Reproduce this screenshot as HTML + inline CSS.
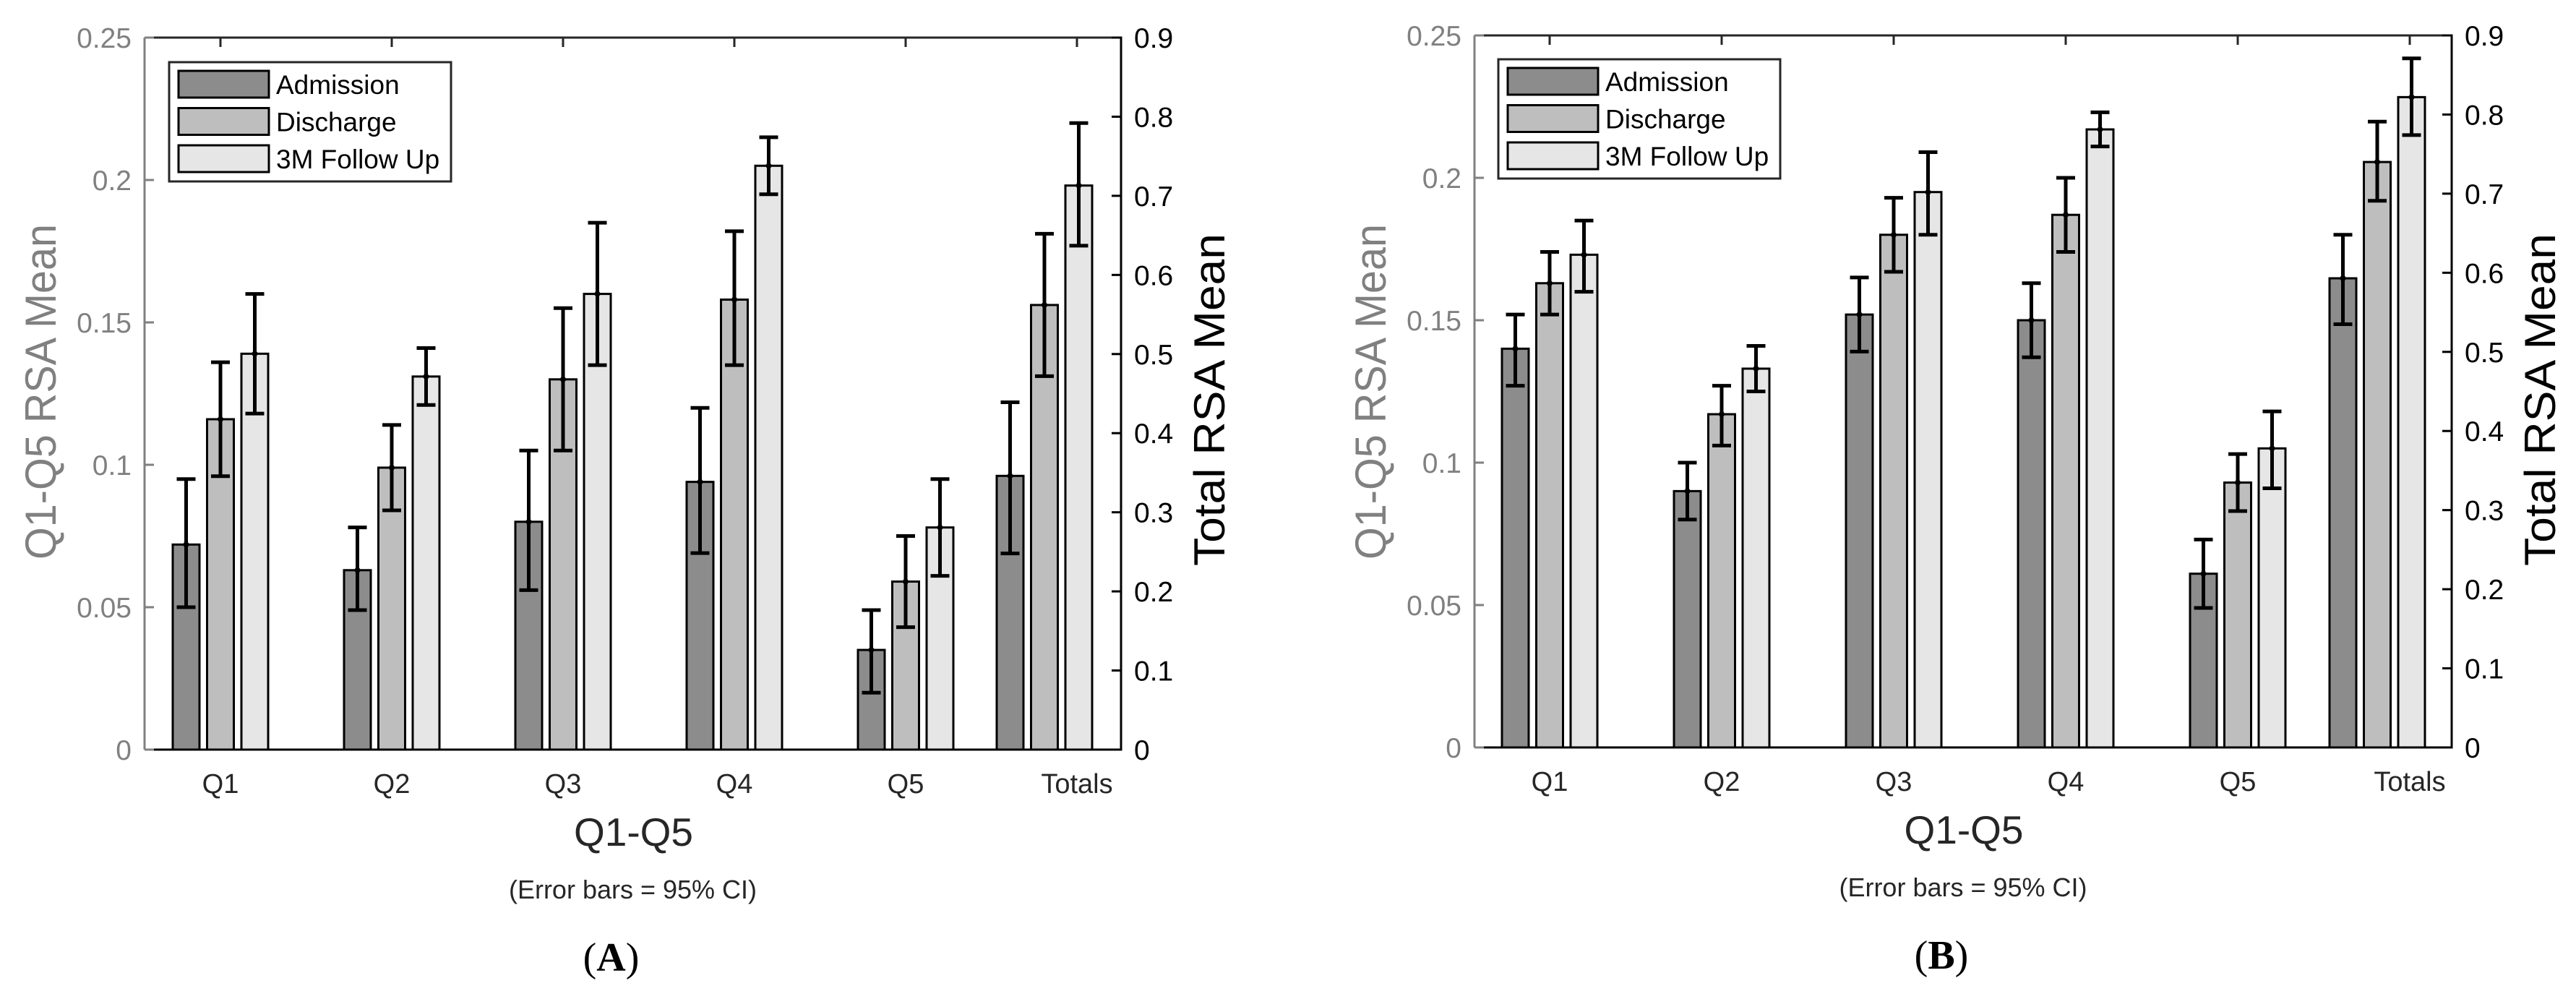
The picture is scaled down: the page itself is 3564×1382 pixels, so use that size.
<!DOCTYPE html>
<html><head><meta charset="utf-8"><style>
html,body{margin:0;padding:0;background:#fff;}
svg{display:block;font-family:"Liberation Sans",Arial,sans-serif;}
</style></head><body>
<svg id="fig" width="3564" height="1382" viewBox="0 0 3564 1382" xmlns="http://www.w3.org/2000/svg"></svg>
<script>
const categories = ["Q1","Q2","Q3","Q4","Q5","Totals"];
const seriesNames = ["Admission","Discharge","3M Follow Up"];
const leftTicks = ["0","0.05","0.1","0.15","0.2","0.25"];
const rightTicks = ["0","0.1","0.2","0.3","0.4","0.5","0.6","0.7","0.8","0.9"];
// Panel A: Q1-Q5 on left axis (0-0.25), Totals on right axis (0-0.9)
const aAdm = [0.072,0.063,0.080,0.094,0.035,0.346];
const aAdmLo = [0.050,0.049,0.056,0.069,0.020,0.248];
const aAdmHi = [0.095,0.078,0.105,0.120,0.049,0.439];
const aDis = [0.116,0.099,0.130,0.158,0.059,0.562];
const aDisLo = [0.096,0.084,0.105,0.135,0.043,0.472];
const aDisHi = [0.136,0.114,0.155,0.182,0.075,0.652];
const aFu = [0.139,0.131,0.160,0.205,0.078,0.713];
const aFuLo = [0.118,0.121,0.135,0.195,0.061,0.637];
const aFuHi = [0.160,0.141,0.185,0.215,0.095,0.792];
// Panel B
const bAdm = [0.140,0.090,0.152,0.150,0.061,0.593];
const bAdmLo = [0.127,0.080,0.139,0.137,0.049,0.535];
const bAdmHi = [0.152,0.100,0.165,0.163,0.073,0.648];
const bDis = [0.163,0.117,0.180,0.187,0.093,0.740];
const bDisLo = [0.152,0.106,0.167,0.174,0.083,0.691];
const bDisHi = [0.174,0.127,0.193,0.200,0.103,0.791];
const bFu = [0.173,0.133,0.195,0.217,0.105,0.822];
const bFuLo = [0.160,0.125,0.180,0.211,0.091,0.774];
const bFuHi = [0.185,0.141,0.209,0.223,0.118,0.871];

const NS="http://www.w3.org/2000/svg";
const svg=document.getElementById('fig');
function mk(tag,attrs,parent,text){const e=document.createElementNS(NS,tag);for(const k in attrs)e.setAttribute(k,attrs[k]);if(text!==undefined)e.textContent=text;(parent||svg).appendChild(e);return e;}
const fills=["#8c8c8c","#bebebe","#e6e6e6"];

function panel(P){
  const g=mk('g',{});
  
  
  const L=P.left,R=P.right,T=P.top,B=P.bottom;
  const yL=v=>B-(v/0.25)*(B-T);
  const yR=v=>B-(v/0.9)*(B-T);
  const xTick=i=>P.x0+i*P.step;
  const xCenter=i=>i===5?xTick(i)-45:xTick(i);
  const pitch=47.5,bw=37;
  const vals=[P.s[0],P.s[1],P.s[2]],lo=[P.lo[0],P.lo[1],P.lo[2]],hi=[P.hi[0],P.hi[1],P.hi[2]];
  for(let i=0;i<categories.length;i++){
    const ys=i===5?yR:yL;
    for(let s=0;s<3;s++){
      const cx=xCenter(i)+(s-1)*pitch;
      const y=ys(vals[s][i]);
      const r=mk('rect',{x:cx-bw/2,y:y,width:bw,height:B-y,fill:fills[s],stroke:'#000','stroke-width':3},g);
      
      
      const eg=mk('g',{stroke:'#000','stroke-width':5},g);
      
      
      const y1=ys(lo[s][i]),y2=ys(hi[s][i]);
      mk('line',{x1:cx,x2:cx,y1:y1,y2:y2},eg);
      mk('line',{x1:cx-13,x2:cx+13,y1:y1,y2:y1},eg);
      mk('line',{x1:cx-13,x2:cx+13,y1:y2,y2:y2},eg);
      mk('circle',{cx:cx,cy:y,r:4,fill:'#000',stroke:'none'},eg);
    }
  }
  const ax=mk('g',{},g);
  
  
  mk('line',{x1:L,x2:R,y1:T,y2:T,stroke:'#262626','stroke-width':3},ax);
  mk('line',{x1:L,x2:R+1.5,y1:B,y2:B,stroke:'#000','stroke-width':3},ax);
  mk('line',{x1:L,x2:L,y1:T,y2:B,stroke:'#808080','stroke-width':3},ax);
  mk('line',{x1:R,x2:R,y1:T-1.5,y2:B+1.5,stroke:'#000','stroke-width':3},ax);
  for(let i=0;i<categories.length;i++){
    mk('line',{x1:xTick(i),x2:xTick(i),y1:T,y2:T+13,stroke:'#262626','stroke-width':3},ax);
    const t=mk('text',{x:xTick(i),y:B+60,'font-size':38,'text-anchor':'middle',fill:'#262626'},g,categories[i]);
    
    
  }
  for(let k=0;k<leftTicks.length;k++){
    const y=yL(parseFloat(leftTicks[k]));
    mk('line',{x1:L,x2:L+13,y1:y,y2:y,stroke:'#808080','stroke-width':3},ax);
    const t=mk('text',{x:L-18,y:y+14,'font-size':39,'text-anchor':'end',fill:'#808080'},g,leftTicks[k]);
    
    
  }
  for(let k=0;k<rightTicks.length;k++){
    const y=yR(parseFloat(rightTicks[k]));
    mk('line',{x1:R-13,x2:R,y1:y,y2:y,stroke:'#000','stroke-width':3},ax);
    const t=mk('text',{x:R+18,y:y+14,'font-size':39,fill:'#000'},g,rightTicks[k]);
    
    
  }
  const lt=mk('text',{x:0,y:0,'font-size':60,'text-anchor':'middle',textLength:464,lengthAdjust:'spacingAndGlyphs',fill:'#808080',transform:`translate(${L-123},542) rotate(-90)`},g,'Q1-Q5 RSA Mean');
  
  
  const rt=mk('text',{x:0,y:0,'font-size':60,'text-anchor':'middle',textLength:460,lengthAdjust:'spacingAndGlyphs',fill:'#000',transform:`translate(${R+143},553) rotate(-90)`},g,'Total RSA Mean');
  
  
  const cx=(L+R)/2;
  const xt=mk('text',{x:cx+1,y:B+133,'font-size':55,'text-anchor':'middle',fill:'#262626'},g,'Q1-Q5');
  
  
  const nt=mk('text',{x:cx,y:B+206,'font-size':36,'text-anchor':'middle',fill:'#262626'},g,'(Error bars = 95% CI)');
  
  
  const pl=mk('text',{x:cx-30,y:B+306,'font-size':56,'text-anchor':'middle',fill:'#000','font-family':'"Liberation Serif",serif'},g);
  
  
  mk('tspan',{},pl,'(');mk('tspan',{'font-weight':'bold'},pl,P.label);mk('tspan',{},pl,')');
  const lg=mk('g',{},g);
  
  
  mk('rect',{x:P.lx,y:P.ly,width:390,height:165,fill:'#fff',stroke:'#262626','stroke-width':3},lg);
  for(let s=0;s<3;s++){
    const yy=P.ly+12+s*51.5;
    const sw=mk('rect',{x:P.lx+13,y:yy,width:125,height:37,fill:fills[s],stroke:'#000','stroke-width':3},lg);
    
    
    const tx=mk('text',{x:P.lx+148,y:yy+32,'font-size':37,fill:'#000'},lg,seriesNames[s]);
    
    
  }
}
panel({name:'panel-a',label:'A',left:200,right:1551,top:52,bottom:1037,x0:305,step:237,
  s:[aAdm,aDis,aFu],lo:[aAdmLo,aDisLo,aFuLo],hi:[aAdmHi,aDisHi,aFuHi],lx:234,ly:86});
panel({name:'panel-b',label:'B',left:2040,right:3392,top:49,bottom:1034,x0:2144,step:238,
  s:[bAdm,bDis,bFu],lo:[bAdmLo,bDisLo,bFuLo],hi:[bAdmHi,bDisHi,bFuHi],lx:2073,ly:82});
</script>
</body></html>
